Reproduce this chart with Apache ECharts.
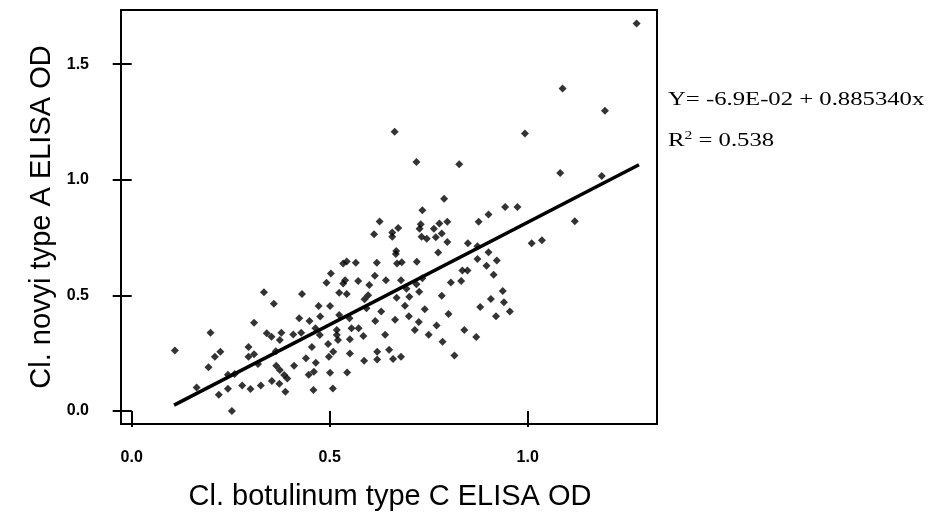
<!DOCTYPE html>
<html><head><meta charset="utf-8">
<script src="https://cdn.jsdelivr.net/npm/echarts@6/dist/echarts.min.js"></script>
<style>html,body{margin:0;padding:0;background:#fff}#c{width:948px;height:530px}</style>
</head><body><div id="c"></div>
<script>
// Cl. botulinum type C ELISA OD (x) vs Cl. novyi type A ELISA OD (y)
const xValues = [
1.275,1.088,1.195,1.082,1.187,1.119,
0.664,0.993,0.719,0.827,0.789,0.734,0.943,0.974,0.626,0.673,0.658,0.658,0.612,0.730,
0.727,0.777,0.797,0.763,0.783,0.732,0.745,0.768,0.797,0.876,0.901,1.010,1.036,0.849,
0.873,0.668,0.667,0.774,0.901,0.873,0.922,0.896,0.914,0.566,0.619,0.670,0.682,0.720,
0.614,0.642,0.572,0.600,0.680,0.719,0.734,0.835,0.848,0.806,0.832,0.937,0.694,0.726,
0.783,0.907,0.669,0.701,0.597,
0.109,0.164,0.194,0.210,0.224,0.199,0.253,0.220,0.243,0.243,0.260,0.279,0.300,0.326,
0.295,0.295,0.309,0.319,0.309,0.334,0.359,0.341,0.353,0.378,0.374,0.364,0.354,0.373,
0.365,0.374,0.385,0.393,0.388,0.408,0.410,0.430,0.423,0.428,0.440,0.447,0.460,0.465,
0.459,0.449,0.455,0.472,0.476,0.464,0.475,0.492,0.503,0.501,0.496,0.498,0.509,0.501,
0.508,0.518,0.521,0.518,0.524,0.524,0.543,0.534,0.539,0.534,0.543,0.550,0.555,0.573,
0.585,0.551,0.551,0.587,0.544,0.593,0.588,0.615,0.620,0.620,
0.630,0.640,0.650,0.660,0.680,0.700,0.715,0.725,0.740,0.750,0.770,0.785,0.800,0.815,
0.840,0.870,0.880,0.920,0.940,0.955,0.690,0.665
];
const yValues = [
1.676,1.395,1.298,1.029,1.016,0.821,
1.208,1.200,1.077,1.067,0.918,0.868,0.882,0.882,0.820,0.791,0.772,0.754,0.764,0.808,
0.788,0.811,0.818,0.788,0.768,0.754,0.745,0.751,0.731,0.818,0.850,0.725,0.739,0.725,
0.713,0.692,0.679,0.686,0.687,0.657,0.651,0.628,0.589,0.641,0.641,0.638,0.643,0.646,
0.585,0.566,0.562,0.545,0.566,0.548,0.574,0.608,0.608,0.556,0.562,0.519,0.529,0.516,
0.499,0.484,0.490,0.494,0.501,
0.262,0.102,0.189,0.235,0.256,0.339,0.000,0.071,0.096,0.157,0.160,0.111,0.095,0.111,
0.277,0.235,0.246,0.203,0.382,0.514,0.464,0.336,0.321,0.339,0.307,0.259,0.130,0.118,
0.196,0.177,0.156,0.141,0.083,0.331,0.196,0.506,0.401,0.339,0.228,0.157,0.170,0.209,
0.091,0.389,0.277,0.454,0.409,0.358,0.329,0.555,0.595,0.454,0.290,0.235,0.256,0.166,
0.098,0.329,0.307,0.350,0.415,0.511,0.506,0.552,0.566,0.638,0.647,0.401,0.358,0.358,
0.324,0.310,0.249,0.217,0.167,0.444,0.483,0.389,0.256,0.223,
0.430,0.330,0.265,0.225,0.235,0.410,0.350,0.385,0.440,0.330,0.370,0.300,0.420,0.240,
0.350,0.320,0.450,0.410,0.470,0.430,0.455,0.395
];
const xTicks = [0, 0.5, 1.0];
const yTicks = [0, 0.5, 1.0, 1.5];
const fitIntercept = -0.069;
const fitSlope = 0.885340;
const fitRange = [0.107, 1.281];
const rSquared = '0.538';
const xTitle = 'Cl. botulinum type C ELISA OD';
const yTitle = 'Cl. novyi type A ELISA OD';

const points = xValues.map((x, i) => [x, yValues[i]]);
const fitLine = fitRange.map(x => [x, fitIntercept + fitSlope * x]);

const chart = echarts.init(document.getElementById('c'), null, {renderer: 'canvas'});
const tickLabel = {fontFamily: 'Liberation Sans', fontWeight: 'bold', fontSize: 16, color: '#000',
  formatter: v => v.toFixed(1)};
chart.setOption({
  animation: false,
  backgroundColor: '#fff',
  grid: {left: 121, right: 291, top: 10, bottom: 106, show: true, borderColor: '#000', borderWidth: 2},
  xAxis: {type: 'value', min: -0.027, max: 1.3265,
    axisLine: {show: false}, splitLine: {show: false},
    axisTick: {show: true, inside: false, length: 16, lineStyle: {color: '#000', width: 2}, customValues: xTicks},
    axisLabel: Object.assign({margin: 26, customValues: xTicks}, tickLabel)},
  yAxis: {type: 'value', min: -0.056, max: 1.734,
    axisLine: {show: false}, splitLine: {show: false},
    axisTick: {show: true, inside: false, length: 19, lineStyle: {color: '#000', width: 2}, customValues: yTicks},
    axisLabel: Object.assign({margin: 32, customValues: yTicks}, tickLabel)},
  series: [
    {type: 'scatter', data: points, symbol: 'diamond', symbolSize: 8, itemStyle: {color: '#000'}},
    {type: 'line', data: fitLine, showSymbol: false, lineStyle: {color: '#000', width: 3.5}}
  ],
  graphic: [
    {type: 'text', x: 390, y: 497, style: {text: xTitle, fontFamily: 'Liberation Sans', fontSize: 29, fill: '#000', align: 'center', verticalAlign: 'middle'}},
    {type: 'text', x: 42, y: 217, rotation: Math.PI / 2, style: {text: yTitle, fontFamily: 'Liberation Sans', fontSize: 29, fill: '#000', align: 'center', verticalAlign: 'middle'}},
    {type: 'text', x: 668, y: 100, scaleX: 1.3, style: {text: 'Y= ' + fitIntercept.toExponential(1).replace('e', 'E').replace('-2', '-02') + ' + ' + fitSlope.toFixed(6) + 'x', fontFamily: 'Liberation Serif', fontSize: 19, fill: '#000', align: 'left', verticalAlign: 'middle'}},
    {type: 'text', x: 668, y: 141, scaleX: 1.3, style: {text: 'R{s|2} = ' + rSquared, fontFamily: 'Liberation Serif', fontSize: 19, fill: '#000', align: 'left', verticalAlign: 'middle',
      rich: {s: {fontFamily: 'Liberation Serif', fontSize: 12, verticalAlign: 'top', padding: [0, 0, 10, 0]}}}}
  ]
});
</script>
</body></html>
